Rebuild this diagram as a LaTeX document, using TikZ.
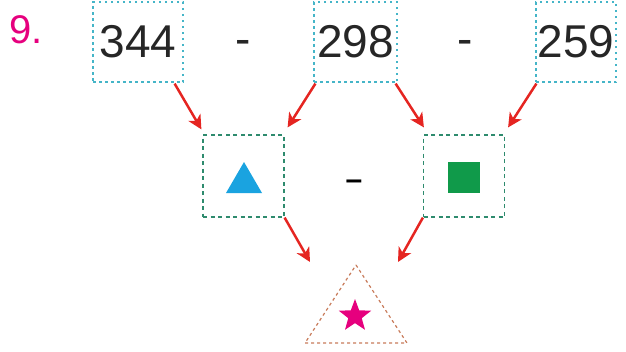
\documentclass[tikz,border=0pt]{standalone}
\usepackage{fontspec}
\setmainfont{Liberation Sans}
\usetikzlibrary{arrows.meta,shapes.geometric}
\definecolor{numblue}{HTML}{45B5C8}
\definecolor{boxgreen}{HTML}{2E8B6E}
\definecolor{arrred}{HTML}{E52521}
\definecolor{tribrown}{HTML}{C87B5A}
\definecolor{shapeblue}{HTML}{1AA3E0}
\definecolor{shapegreen}{HTML}{109A4A}
\definecolor{starpink}{HTML}{E6007E}
\tikzset{
	numbox/.style={draw=numblue, line width=1.2pt, dash pattern=on 2.5pt off 3.5pt, minimum height=80pt, inner sep=0pt},
	shapebox/.style={draw=boxgreen, line width=1.2pt, dash pattern=on 4pt off 3.5pt, minimum width=81pt, minimum height=82pt, inner sep=0pt},
	arr/.style={draw=arrred, fill=arrred, line width=2.5pt, -{Stealth[length=14pt,width=14pt,inset=4pt]}},
	bignum/.style={font=\fontsize{46}{48}\selectfont, text=black!85}
}
\begin{document}
\begin{tikzpicture}[x=1pt, y=-1pt]
\useasboundingbox (0,0) rectangle (626,351);
	\node[text=starpink, font=\fontsize{40}{42}\selectfont] (nr) at (26,30) {9.};
	\foreach \n/\x/\w in {344/138/90, 298/355.5/83, 259/576/80}
	{
		\node[numbox, bignum, minimum width=\w pt] (n\n) at (\x,42) {\n};
	}
	\foreach \x/\l in {243/1, 465/2}
	{
		\node[bignum, anchor=base] (m\l) at (\x,54) {-};
	}
	\node[shapebox] (tb) at (243.5,176) {};
	\node[shapebox] (sb) at (464,176) {};
	\node[font=\fontsize{30}{32}\selectfont\bfseries, anchor=base, text=black] (m3) at (354,189) {–};
	\fill[shapeblue] (226,193) -- (262,193) -- (244,162) -- cycle;
	\fill[shapegreen] (448,162) rectangle (480,193);
	\draw[tribrown, line width=1.2pt, dash pattern=on 3pt off 3pt] (356,265) coordinate (top) -- (407,343) -- (305,343) -- cycle;
	\node[star, star points=5, star point ratio=2.4, fill=starpink, minimum size=34pt, inner sep=0pt] (st) at (355,316) {};
	\coordinate (e5) at (310,262);
	\coordinate (e6) at (398,262);

	\draw[arr] ([shift={(-9,1)}]n344.south east) -- ([shift={(-1,-5)}]tb.north west);
	\draw[arr] ([shift={(2,1)}]n298.south west) -- ([shift={(3,-7)}]tb.north east);
	\draw[arr] ([shift={(-2,1)}]n298.south east) -- ([shift={(1,-7)}]sb.north west);
	\draw[arr] ([shift={(1,1)}]n259.south west) -- ([shift={(3,-7)}]sb.north east);
	\draw[arr] (tb.south east) -- (e5);
	\draw[arr] (sb.south west) -- (e6);
\end{tikzpicture}
\end{document}
